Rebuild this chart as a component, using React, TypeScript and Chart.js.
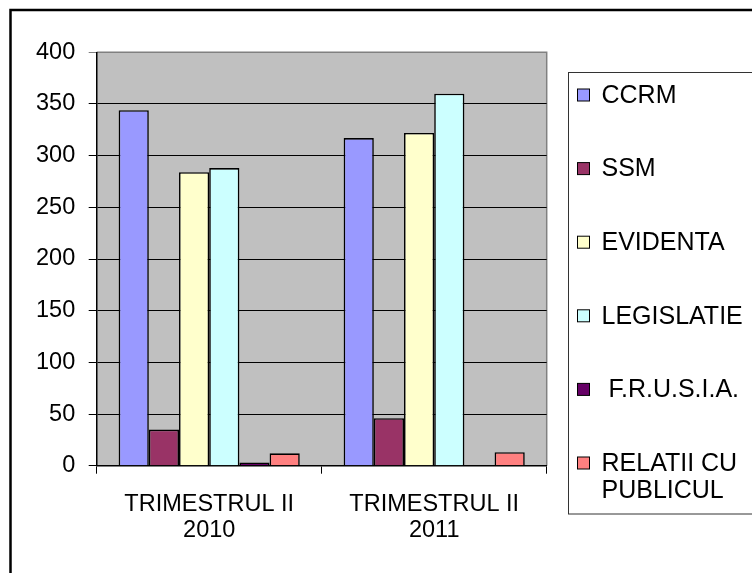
import React, { useEffect, useRef } from 'react';
import { Chart, registerables } from 'chart.js';

Chart.register(...registerables);

// ---- data ----
const categories: string[][] = [
  ['TRIMESTRUL II', '2010'],
  ['TRIMESTRUL II', '2011'],
];
const seriesNames = ['CCRM', 'SSM', 'EVIDENTA', 'LEGISLATIE', ' F.R.U.S.I.A.', 'RELATII CU PUBLICUL'];
const legendLines: string[][] = [
  ['CCRM'],
  ['SSM'],
  ['EVIDENTA'],
  ['LEGISLATIE'],
  [' F.R.U.S.I.A.'],
  ['RELATII CU', 'PUBLICUL'],
];
const ccrm = [344, 317];
const ssm = [35, 46];
const evidenta = [284, 322];
const legislatie = [288, 360];
const frusia = [3, 0];
const relatii = [12, 13];
const seriesValues = [ccrm, ssm, evidenta, legislatie, frusia, relatii];
const seriesColors = ['#9999FF', '#993366', '#FFFFCC', '#CCFFFF', '#660066', '#FF8080'];
const yMin = 0;
const yMax = 400;
const yStep = 50;

const FONT = '"Liberation Sans", Arial, Helvetica, sans-serif';

const decorPlugin = {
  id: 'decor',
  beforeDraw(chart: any) {
    const { ctx, chartArea: a, width, height } = chart;
    ctx.save();
    ctx.fillStyle = '#FFFFFF';
    ctx.fillRect(0, 0, width, height);
    ctx.fillStyle = '#C0C0C0';
    ctx.fillRect(a.left, a.top, a.right - a.left, a.bottom - a.top);
    ctx.strokeStyle = '#808080';
    ctx.lineWidth = 1.5;
    ctx.beginPath();
    ctx.moveTo(a.left, a.top);
    ctx.lineTo(a.right, a.top);
    ctx.lineTo(a.right, a.bottom);
    ctx.stroke();
    ctx.restore();
  },
  afterDraw(chart: any) {
    const { ctx } = chart;
    ctx.save();
    // legend box
    ctx.strokeStyle = '#333333';
    ctx.lineWidth = 1;
    ctx.strokeRect(568.5, 72.5, 200, 441.5);
    ctx.font = `25px ${FONT}`;
    ctx.textBaseline = 'middle';
    ctx.textAlign = 'left';
    const startY = 96;
    const step = 73.6;
    chart.data.datasets.forEach((ds: any, i: number) => {
      const cy = startY + i * step;
      ctx.fillStyle = ds.backgroundColor;
      ctx.fillRect(577.5, cy - 7, 12, 12);
      ctx.strokeStyle = '#000000';
      ctx.lineWidth = 1;
      ctx.strokeRect(577.5, cy - 7, 12, 12);
      ctx.fillStyle = '#000000';
      legendLines[i].forEach((line, j) => {
        ctx.fillText(line, 601.5, cy + j * 27);
      });
    });
    // outer frame
    ctx.strokeStyle = '#000000';
    ctx.lineWidth = 2.5;
    ctx.strokeRect(10.5, 10, 800, 700);
    ctx.restore();
  },
};

export default function App() {
  const canvasRef = useRef<HTMLCanvasElement | null>(null);

  useEffect(() => {
    document.body.style.margin = '0';
    const canvas = canvasRef.current;
    if (!canvas) return;
    const chart = new Chart(canvas, {
      type: 'bar',
      data: {
        labels: categories,
        datasets: seriesNames.map((name, i) => ({
          label: name,
          data: seriesValues[i],
          backgroundColor: seriesColors[i],
          borderColor: '#000000',
          borderWidth: 1.6,
          categoryPercentage: 0.805,
          barPercentage: 1,
        })),
      },
      options: {
        responsive: false,
        animation: false,
        devicePixelRatio: 1,
        layout: { padding: { left: 0, top: 52.3, right: 205.3, bottom: 0 } },
        plugins: {
          legend: { display: false },
          tooltip: { enabled: false },
          title: { display: false },
        },
        scales: {
          x: {
            grid: {
              offset: true,
              drawOnChartArea: false,
              drawTicks: true,
              tickLength: 8,
              color: '#000000',
            },
            border: { color: '#000000', width: 1.5 },
            ticks: {
              color: '#000000',
              padding: 17,
              font: { family: FONT, size: 23.5, lineHeight: 1.14 },
              maxRotation: 0,
              autoSkip: false,
            },
            afterFit(scale: any) {
              scale.height = 107.3;
            },
          },
          y: {
            min: yMin,
            max: yMax,
            grid: {
              color: (c: any) => (c.tick && c.tick.value === yMax ? '#808080' : '#000000'),
              lineWidth: 1,
              tickLength: 8,
              drawTicks: true,
            },
            border: { color: '#000000', width: 1.5 },
            ticks: {
              stepSize: yStep,
              color: '#000000',
              padding: 13.5,
              font: { family: FONT, size: 23.5 },
            },
            afterFit(scale: any) {
              scale.width = 96.7;
            },
          },
        },
      },
      plugins: [decorPlugin],
    });
    return () => chart.destroy();
  }, []);

  return (
    <div style={{ position: 'absolute', left: 0, top: 0, width: 752, height: 573 }}>
      <canvas ref={canvasRef} width={752} height={573} style={{ width: 752, height: 573 }} />
    </div>
  );
}
